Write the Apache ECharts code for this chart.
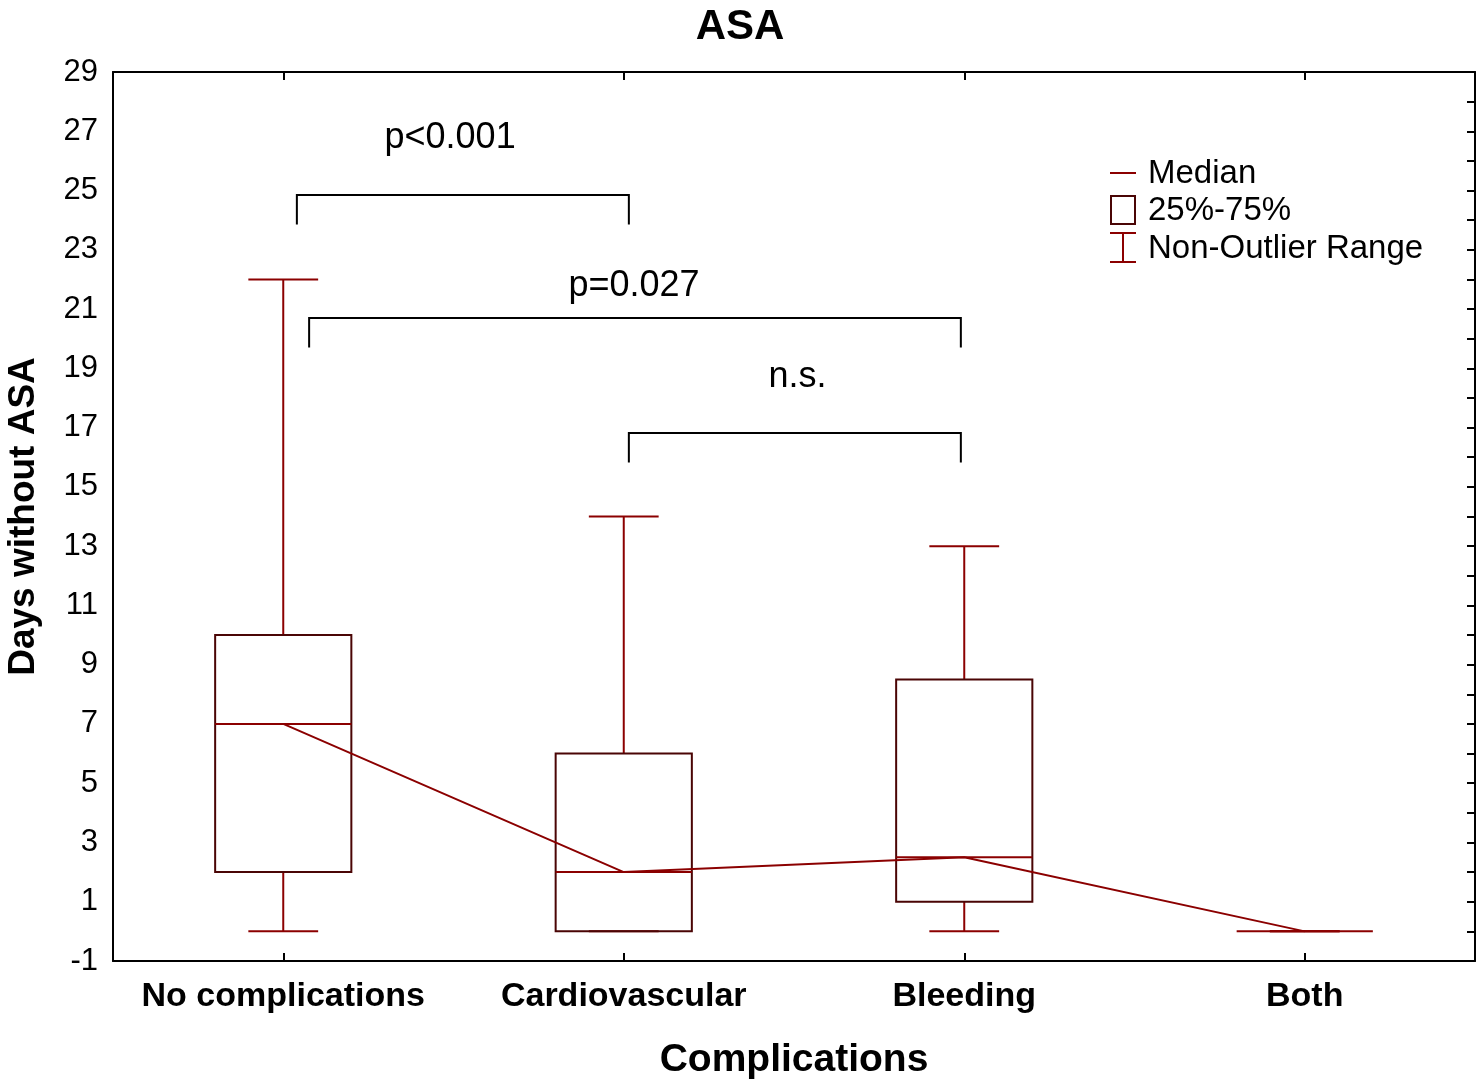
<!DOCTYPE html>
<html>
<head>
<meta charset="utf-8">
<script src="https://cdn.jsdelivr.net/npm/echarts@6/dist/echarts.min.js"></script>
<style>
html,body{margin:0;padding:0;background:#fff;}
#main{width:1480px;height:1081px;}
</style>
</head>
<body>
<div id="main"></div>
<script>
// ---- data ----
const categories = ['No complications', 'Cardiovascular', 'Bleeding', 'Both'];
const whiskerLow = [0, 0, 0, 0];
const quartile1 = [2, 0, 1, 0];
const medians = [7, 2, 2.5, 0];
const quartile3 = [10, 6, 8.5, 0];
const whiskerHigh = [22, 14, 13, 0];

// significance brackets (x in category units, y in data units)
const bracketFrom = [0.04, 0.076, 1.015];
const bracketTo = [1.015, 1.99, 1.99];
const bracketTop = [24.85, 20.7, 16.82];
const bracketLeg = [1.0, 1.0, 1.0];
const bracketLabels = ['p<0.001', 'p=0.027', 'n.s.'];
const bracketLabelX = [0.49, 1.03, 1.51];
const bracketLabelY = [26.77, 21.78, 18.71];

const FONT = '"Liberation Sans", Arial, Helvetica, sans-serif';
const WHISKER = '#8b0000';
const BOXC = '#4a0505';

const chart = echarts.init(document.getElementById('main'), null, {renderer: 'canvas'});

const boxData = categories.map((c, i) => [i, whiskerLow[i], quartile1[i], medians[i], quartile3[i], whiskerHigh[i]]);

const option = {
  backgroundColor: '#fff',
  animation: false,
  title: {
    text: 'ASA', left: 'center', top: 1,
    textStyle: {fontFamily: FONT, fontSize: 42, fontWeight: 'bold', color: '#000'}
  },
  grid: {left: 113, top: 72, right: 5, bottom: 120, containLabel: false, outerBoundsMode: 'none'},
  xAxis: [{
    type: 'category', data: categories, position: 'bottom',
    name: 'Complications', nameLocation: 'middle', nameGap: 80,
    nameTextStyle: {fontFamily: FONT, fontSize: 39, fontWeight: 'bold', color: '#000'},
    axisLine: {onZero: false, lineStyle: {color: '#000', width: 2}},
    axisTick: {show: true, inside: true, length: 8, alignWithLabel: true, interval: 0, lineStyle: {color: '#000', width: 2}},
    axisLabel: {interval: 0, fontFamily: FONT, fontSize: 34, fontWeight: 'bold', color: '#000', margin: 19},
    splitLine: {show: false}
  }, {
    type: 'category', data: categories, position: 'top',
    axisLine: {onZero: false, lineStyle: {color: '#000', width: 2}},
    axisTick: {show: true, inside: true, length: 8, alignWithLabel: true, interval: 0, lineStyle: {color: '#000', width: 2}},
    axisLabel: {show: false},
    splitLine: {show: false}
  }],
  yAxis: [{
    type: 'value', min: -1, max: 29, interval: 2, position: 'left',
    name: 'Days without ASA', nameLocation: 'middle', nameGap: 71,
    nameTextStyle: {fontFamily: FONT, fontSize: 37, fontWeight: 'bold', color: '#000'},
    axisLine: {show: true, onZero: false, lineStyle: {color: '#000', width: 2}},
    axisTick: {show: false},
    axisLabel: {fontFamily: FONT, fontSize: 31, color: '#000', margin: 15},
    splitLine: {show: false}
  }, {
    type: 'value', min: -1, max: 29, interval: 1, position: 'right',
    axisLine: {show: true, onZero: false, lineStyle: {color: '#000', width: 2}},
    axisTick: {show: true, inside: true, length: 8, lineStyle: {color: '#000', width: 2}},
    axisLabel: {show: false},
    splitLine: {show: false}
  }],
  series: [{
    type: 'custom',
    name: 'box',
    xAxisIndex: 0, yAxisIndex: 0,
    data: boxData,
    encode: {x: 0, y: [1, 2, 3, 4, 5]},
    renderItem: function (params, api) {
      const idx = api.value(0);
      const bandW = api.size([1, 0])[0];
      const cx = api.coord([idx, 0])[0];
      const yMin = api.coord([idx, api.value(1)])[1];
      const yQ1 = api.coord([idx, api.value(2)])[1];
      const yMed = api.coord([idx, api.value(3)])[1];
      const yQ3 = api.coord([idx, api.value(4)])[1];
      const yMax = api.coord([idx, api.value(5)])[1];
      const boxW = bandW * 0.4;
      const capW = bandW * 0.205;
      const ws = {stroke: WHISKER, lineWidth: 2, fill: null};
      const children = [
        {type: 'line', shape: {x1: cx, y1: yQ3, x2: cx, y2: yMax}, style: ws},
        {type: 'line', shape: {x1: cx, y1: yQ1, x2: cx, y2: yMin}, style: ws},
        {type: 'line', shape: {x1: cx - capW / 2, y1: yMax, x2: cx + capW / 2, y2: yMax}, style: ws},
        {type: 'line', shape: {x1: cx - capW / 2, y1: yMin, x2: cx + capW / 2, y2: yMin}, style: ws}
      ];
      if (Math.abs(yQ1 - yQ3) > 0.5) {
        children.push({type: 'rect', shape: {x: cx - boxW / 2, y: yQ3, width: boxW, height: yQ1 - yQ3},
          style: {stroke: BOXC, lineWidth: 2, fill: null}});
      }
      children.push({type: 'line', shape: {x1: cx - boxW / 2, y1: yMed, x2: cx + boxW / 2, y2: yMed}, style: ws});
      return {type: 'group', children: children};
    },
    z: 2
  }, {
    type: 'line',
    name: 'median line',
    xAxisIndex: 0, yAxisIndex: 0,
    data: medians,
    symbol: 'none',
    lineStyle: {color: WHISKER, width: 2},
    z: 3
  }, {
    type: 'custom',
    name: 'brackets',
    xAxisIndex: 0, yAxisIndex: 0,
    data: bracketTop.map((t, i) => [0, t]),
    renderItem: function (params, api) {
      const i = params.dataIndex;
      const bandW = api.size([1, 0])[0];
      const x0 = api.coord([0, 0])[0];
      const xa = x0 + bracketFrom[i] * bandW;
      const xb = x0 + bracketTo[i] * bandW;
      const yt = api.coord([0, bracketTop[i]])[1];
      const yb = api.coord([0, bracketTop[i] - bracketLeg[i]])[1];
      const tx = x0 + bracketLabelX[i] * bandW;
      const ty = api.coord([0, bracketLabelY[i]])[1];
      const st = {stroke: '#000', lineWidth: 2, fill: null};
      return {type: 'group', children: [
        {type: 'polyline', shape: {points: [[xa, yb], [xa, yt], [xb, yt], [xb, yb]]}, style: st},
        {type: 'text', x: tx, y: ty, style: {text: bracketLabels[i], font: '36px ' + FONT, fill: '#000', align: 'center', verticalAlign: 'middle'}}
      ]};
    },
    z: 4
  }],
  graphic: [
    {type: 'line', shape: {x1: 1110, y1: 173, x2: 1136, y2: 173}, style: {stroke: WHISKER, lineWidth: 2}},
    {type: 'text', x: 1148, y: 174, style: {text: 'Median', font: '33px ' + FONT, fill: '#000', verticalAlign: 'middle'}},
    {type: 'rect', shape: {x: 1111, y: 196, width: 24, height: 28}, style: {stroke: BOXC, lineWidth: 2, fill: null}},
    {type: 'text', x: 1148, y: 211, style: {text: '25%-75%', font: '33px ' + FONT, fill: '#000', verticalAlign: 'middle'}},
    {type: 'line', shape: {x1: 1123, y1: 233, x2: 1123, y2: 262}, style: {stroke: WHISKER, lineWidth: 2}},
    {type: 'line', shape: {x1: 1110, y1: 233, x2: 1136, y2: 233}, style: {stroke: WHISKER, lineWidth: 2}},
    {type: 'line', shape: {x1: 1110, y1: 262, x2: 1136, y2: 262}, style: {stroke: WHISKER, lineWidth: 2}},
    {type: 'text', x: 1148, y: 249, style: {text: 'Non-Outlier Range', font: '33px ' + FONT, fill: '#000', verticalAlign: 'middle'}}
  ]
};
chart.setOption(option);
</script>
</body>
</html>
